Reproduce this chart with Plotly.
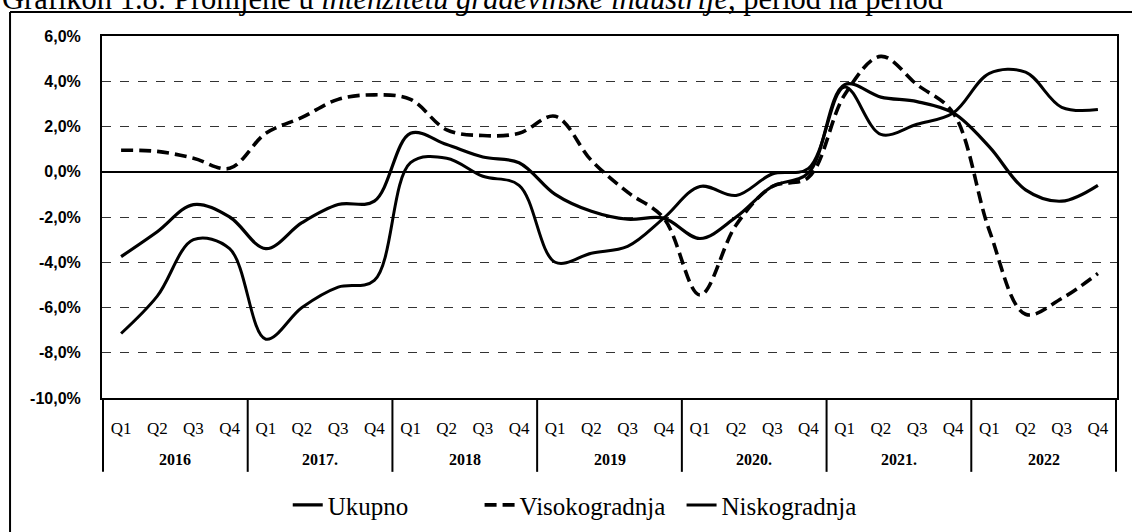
import plotly.graph_objects as go

# ---- data ----
years = ["2016", "2017.", "2018", "2019", "2020.", "2021.", "2022"]
quarters = ["Q1", "Q2", "Q3", "Q4"]

ukupno = [-3.75, -2.65, -1.45, -2.0, -3.4, -2.25, -1.45, -1.3,
          1.7, 1.2, 0.65, 0.4, -1.0, -1.75, -2.1, -2.05,
          -2.95, -2.0, -0.65, -0.05, 3.85, 3.3, 3.1, 2.6,
          1.1, -0.8, -1.3, -0.6]
visokogradnja = [0.95, 0.9, 0.6, 0.15, 1.7, 2.4, 3.2, 3.4,
                 3.2, 1.85, 1.6, 1.7, 2.45, 0.5, -0.9, -2.05,
                 -5.45, -2.35, -0.65, -0.25, 3.4, 5.1, 3.85, 2.6,
                 -2.6, -6.3, -5.6, -4.5]
niskogradnja = [-7.15, -5.5, -3.0, -3.4, -7.4, -6.0, -5.1, -4.8,
                0.4, 0.6, -0.2, -0.6, -4.0, -3.6, -3.3, -2.05,
                -0.65, -1.05, -0.1, 0.15, 3.75, 1.65, 2.1, 2.6,
                4.35, 4.4, 2.85, 2.75]

y_tickvals = [6, 4, 2, 0, -2, -4, -6, -8, -10]
y_ticktext = ["6,0%", "4,0%", "2,0%", "0,0%", "-2,0%", "-4,0%", "-6,0%", "-8,0%", "-10,0%"]

title_text = "Grafikon 1.8: Promjene u <i>intenzitetu građevinske industrije</i>, period na period"

# ---- categories ----
categories = [f"{y} {q}" for y in years for q in quarters]
q_labels = [q for _ in years for q in quarters]
nq = len(quarters)

SERIF = "Liberation Serif"

fig = go.Figure()
fig.add_trace(go.Scatter(x=categories, y=ukupno, name="Ukupno", mode="lines", legend="legend",
                         line=dict(color="black", width=3.2, shape="spline", smoothing=1.0)))
fig.add_trace(go.Scatter(x=categories, y=visokogradnja, name="Visokogradnja", mode="lines", legend="legend2",
                         line=dict(color="black", width=3.6, dash="12px,6px", shape="spline", smoothing=1.0)))
fig.add_trace(go.Scatter(x=categories, y=niskogradnja, name="Niskogradnja", mode="lines", legend="legend3",
                         line=dict(color="black", width=3.0, shape="spline", smoothing=1.0)))

legend_common = dict(orientation="h", xanchor="left", y=-0.296, yanchor="middle",
                     font=dict(family=SERIF, size=25, color="black"),
                     bgcolor="rgba(0,0,0,0)")
fig.update_layout(
    width=1132, height=532,
    margin=dict(l=102, r=15, t=36, b=134, autoexpand=False),
    paper_bgcolor="white", plot_bgcolor="white",
    showlegend=True,
    legend=dict(x=0.183, **legend_common),
    legend2=dict(x=0.372, **legend_common),
    legend3=dict(x=0.571, **legend_common),
    font=dict(family=SERIF, color="black"),
)

fig.update_xaxes(
    type="category", automargin=False,
    tickmode="array", tickvals=categories, ticktext=q_labels,
    tickfont=dict(family=SERIF, size=17, color="black"),
    ticklabelstandoff=14,
    showline=True, linecolor="black", linewidth=2, mirror=True,
    showgrid=False, ticks="",
)
fig.update_yaxes(
    range=[-10, 6], automargin=False,
    tickvals=y_tickvals, ticktext=y_ticktext,
    tickfont=dict(family="Liberation Sans", size=16, color="black", weight="bold"),
    ticklabelstandoff=16,
    showgrid=True, gridcolor="#333333", gridwidth=1, griddash="dash",
    zeroline=True, zerolinecolor="black", zerolinewidth=1.8,
    showline=True, linecolor="black", linewidth=2, mirror=True, ticks="",
)

# year group labels and dividers (positions derived from category indices)
for k, yr in enumerate(years):
    fig.add_annotation(text=f"<b>{yr}</b>", xref="x", yref="paper",
                       x=k * nq + (nq - 1) / 2, y=-0.171, yanchor="middle",
                       showarrow=False, font=dict(family=SERIF, size=16, color="black"))
for k in range(len(years) + 1):
    fig.add_shape(type="line", xref="x", yref="paper",
                  x0=k * nq - 0.5, x1=k * nq - 0.5, y0=0, y1=-0.204,
                  line=dict(color="black", width=2))

# outer frame (left and top edges of the surrounding box)
fig.add_shape(type="line", xref="paper", yref="paper",
              x0=-0.0906, x1=1.02, y0=1.066, y1=1.066,
              line=dict(color="black", width=2))
fig.add_shape(type="line", xref="paper", yref="paper",
              x0=-0.0906, x1=-0.0906, y0=1.066, y1=-0.4,
              line=dict(color="black", width=2))

# title (partially cut at the top, as in the scanned source)
fig.add_annotation(text=title_text, xref="paper", yref="paper",
                   x=-0.1005, y=1.051, xanchor="left", yanchor="bottom",
                   showarrow=False, font=dict(family=SERIF, size=30.5, color="black"))

fig.write_html("out.html",
               config={"displayModeBar": False},
               post_script="document.body.style.margin='0';document.body.style.overflow='hidden';")
